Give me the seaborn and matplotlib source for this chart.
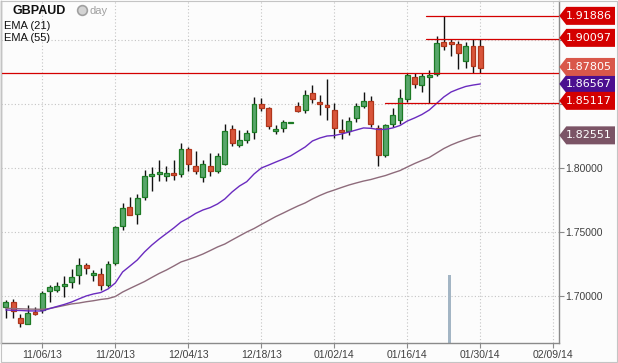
import numpy as np
import matplotlib
matplotlib.use("Agg")
import matplotlib.pyplot as plt
import seaborn as sns
from matplotlib.patches import Polygon, Rectangle
from matplotlib.lines import Line2D
from matplotlib.transforms import blended_transform_factory

# ---------------- data ----------------
symbol = "GBPAUD"
period = "day"
tick_labels = ["11/06/13", "11/20/13", "12/04/13", "12/18/13",
               "01/02/14", "01/16/14", "01/30/14", "02/09/14"]
tick_bars = [5, 15, 25, 35, 45, 55, 65, 75]   # bar number of each date label

opens = [1.6916, 1.6951, 1.6826, 1.6784, 1.6877, 1.6888, 1.7037, 1.7045, 1.7080, 1.7107,
         1.7162, 1.7242, 1.7166, 1.7170, 1.7088, 1.7260, 1.7549, 1.7695, 1.7638, 1.7776,
         1.7940, 1.7955, 1.7934, 1.7959, 1.7951, 1.8146, 1.8013, 1.7926, 1.8014, 1.7975,
         1.8029, 1.8302, 1.8177, 1.8219, 1.8279, 1.8498, 1.8466, 1.8291, 1.8310, 1.8349,
         1.8482, 1.8455, 1.8584, 1.8518, 1.8492, 1.8451, 1.8297, 1.8291, 1.8388, 1.8488,
         1.8523, 1.8310, 1.8102, 1.8341, 1.8375, 1.8541, 1.8709, 1.8646, 1.8713, 1.8734,
         1.8982, 1.8984, 1.8966, 1.8838, 1.8953, 1.8953]
highs = [1.6969, 1.6974, 1.6859, 1.6930, 1.6912, 1.7039, 1.7086, 1.7112, 1.7156, 1.7213,
         1.7299, 1.7255, 1.7205, 1.7219, 1.7273, 1.7547, 1.7729, 1.7773, 1.7793, 1.7984,
         1.8008, 1.8063, 1.8014, 1.8063, 1.8198, 1.8162, 1.8135, 1.8063, 1.8115, 1.8115,
         1.8341, 1.8334, 1.8297, 1.8297, 1.8557, 1.8549, 1.8479, 1.8336, 1.8375, 1.8359,
         1.8513, 1.8609, 1.8648, 1.8570, 1.8695, 1.8510, 1.8380, 1.8401, 1.8505, 1.8591,
         1.8563, 1.8336, 1.8344, 1.8471, 1.8617, 1.8740, 1.8740, 1.8745, 1.8766, 1.9031,
         1.91886, 1.9005, 1.8990, 1.8987, 1.90097, 1.90097]
lows = [1.6826, 1.6830, 1.6760, 1.6779, 1.6854, 1.6870, 1.6955, 1.7034, 1.6995, 1.7065,
        1.7094, 1.7172, 1.7120, 1.7047, 1.7073, 1.7242, 1.7516, 1.7631, 1.7563, 1.7750,
        1.7820, 1.7898, 1.7898, 1.7906, 1.7932, 1.7979, 1.7952, 1.7893, 1.7941, 1.7959,
        1.8023, 1.8174, 1.8166, 1.8198, 1.8227, 1.8448, 1.8305, 1.8268, 1.8281, 1.8349,
        1.8435, 1.8427, 1.8505, 1.8414, 1.8375, 1.8232, 1.8229, 1.8258, 1.8362, 1.8466,
        1.8323, 1.8018, 1.8088, 1.8323, 1.8344, 1.8518, 1.8627, 1.8596, 1.85117, 1.8719,
        1.8922, 1.8875, 1.8773, 1.8781, 1.8740, 1.8740]
closes = [1.6951, 1.6883, 1.6791, 1.6865, 1.6862, 1.7021, 1.7070, 1.7078, 1.7094, 1.7148,
          1.7240, 1.7221, 1.7180, 1.7088, 1.7248, 1.7539, 1.7685, 1.7635, 1.7763, 1.7934,
          1.7952, 1.7969, 1.7959, 1.7947, 1.8146, 1.8034, 1.7973, 1.8029, 1.7979, 1.8091,
          1.8291, 1.8193, 1.8216, 1.8271, 1.8498, 1.8471, 1.8330, 1.8302, 1.8357, 1.8359,
          1.8448, 1.8570, 1.8541, 1.8498, 1.8474, 1.8310, 1.8284, 1.8367, 1.8484, 1.8523,
          1.8341, 1.8104, 1.8334, 1.8412, 1.8545, 1.8724, 1.8654, 1.8716, 1.8724, 1.8977,
          1.8955, 1.8971, 1.8896, 1.8953, 1.8799, 1.87805]
ema21 = [1.6891, 1.6888, 1.6887, 1.6884, 1.6883, 1.6883, 1.6902, 1.6918, 1.6934, 1.6953,
         1.6977, 1.7000, 1.7016, 1.7027, 1.7055, 1.7102, 1.7188, 1.7234, 1.7281, 1.7344,
         1.7398, 1.7445, 1.7488, 1.7531, 1.7578, 1.7609, 1.7645, 1.7672, 1.7691, 1.7719,
         1.7758, 1.7813, 1.7859, 1.7893, 1.7953, 1.8000, 1.8023, 1.8047, 1.8070, 1.8094,
         1.8129, 1.8164, 1.8211, 1.8234, 1.8250, 1.8254, 1.8266, 1.8281, 1.8297, 1.8313,
         1.8310, 1.8301, 1.8302, 1.8313, 1.8332, 1.8367, 1.8391, 1.8418, 1.8453, 1.8504,
         1.8555, 1.8594, 1.8617, 1.8637, 1.8648, 1.86567]
ema55 = [1.6904, 1.6902, 1.6900, 1.6898, 1.6897, 1.6896, 1.6902, 1.6914, 1.6926, 1.6938,
         1.6945, 1.6955, 1.6963, 1.6973, 1.6980, 1.6996, 1.7031, 1.7059, 1.7086, 1.7113,
         1.7145, 1.7176, 1.7203, 1.7234, 1.7266, 1.7285, 1.7305, 1.7328, 1.7355, 1.7383,
         1.7406, 1.7438, 1.7469, 1.7500, 1.7527, 1.7559, 1.7590, 1.7621, 1.7648, 1.7676,
         1.7703, 1.7727, 1.7758, 1.7785, 1.7809, 1.7828, 1.7848, 1.7867, 1.7883, 1.7898,
         1.7910, 1.7926, 1.7941, 1.7961, 1.7980, 1.8008, 1.8035, 1.8059, 1.8082, 1.8117,
         1.8152, 1.8180, 1.8203, 1.8223, 1.8242, 1.82551]

level_values = [1.91886, 1.90097, 1.85117]      # drawn levels with tags
level_start_bars = [57.6, 57.6, 51.9]
support_level = 1.8746                           # full width line
marker_bar = 60.8
marker_top = 1.7164
y_ticks = [1.70, 1.75, 1.80, 1.85, 1.90]
y_tick_labels = ["1.70000", "1.75000", "1.80000", "", ""]   # the last two sit under price tags

# ---------------- style ----------------
sns.set_theme(style="white")
plt.rcParams['font.family'] = ['Liberation Sans', 'DejaVu Sans']

BG = '#fcfcfc'
GREEN_FILL, GREEN_EDGE = '#58a66a', '#1c7a24'
RED_FILL, RED_EDGE = '#d9553a', '#b0361c'
LEVEL_RED = '#d40000'
EMA21_C, EMA55_C = '#6a2bbf', '#8e6b7b'
SPINE = '#8a8a8a'

W, H = 618, 363
fig = plt.figure(figsize=(W / 100, H / 100), dpi=100, facecolor=BG)
ax_l, ax_r, ax_t, ax_b = 1.0, 558.5, 1.0, 343.3
ax = fig.add_axes([ax_l / W, (H - ax_b) / H, (ax_r - ax_l) / W, (ax_b - ax_t) / H])
ax.set_facecolor(BG)

n = len(closes)
x = np.arange(n)
xlim = (-0.66, 75.71)
ylim = (1.66305, 1.93047)

# grid
ax.set_axisbelow(True)
ax.grid(True, linestyle=(0, (1, 2)), color='#c4c4c4', linewidth=0.8)

# marker bar
ax.bar([marker_bar], [marker_top - ylim[0]], bottom=ylim[0], width=0.33,
       color='#a3b5c4', zorder=1.5, linewidth=0)

# wicks
ax.vlines(x, lows, highs, color='#111111', linewidth=1.0, zorder=2)
# bodies
o = np.array(opens); c = np.array(closes)
up = c >= o
bottoms = np.minimum(o, c)
heights = np.maximum(np.abs(c - o), 0.0012)
ax.bar(x, heights, bottom=bottoms, width=0.68,
       color=[GREEN_FILL if u else RED_FILL for u in up],
       edgecolor=[GREEN_EDGE if u else RED_EDGE for u in up],
       linewidth=0.9, zorder=3)

# EMA lines
sns.lineplot(x=x, y=ema55, ax=ax, color=EMA55_C, linewidth=1.0, zorder=4, legend=False)
sns.lineplot(x=x, y=ema21, ax=ax, color=EMA21_C, linewidth=1.0, zorder=4, legend=False)

# levels
ax.plot(xlim, [support_level, support_level], color=LEVEL_RED, linewidth=0.9, zorder=5)
for v, s in zip(level_values, level_start_bars):
    ax.plot([s, xlim[1]], [v, v], color=LEVEL_RED, linewidth=0.9, zorder=5)

ax.set_xlim(*xlim)
ax.set_ylim(*ylim)

ax.set_xticks(tick_bars)
ax.set_xticklabels(tick_labels)
ax.set_yticks(y_ticks)
ax.set_yticklabels(y_tick_labels)
ax.yaxis.tick_right()
ax.tick_params(axis='y', direction='out', length=3.5, width=0.8, color=SPINE,
               pad=1.5, labelsize=7.5, labelcolor='#404040', right=True, left=False)
ax.tick_params(axis='x', direction='out', length=3.5, width=0.8, color=SPINE,
               pad=1.0, labelsize=7.5, labelcolor='#404040', bottom=True)
ax.set_xlabel(''); ax.set_ylabel('')
for side in ['left', 'bottom', 'right']:
    ax.spines[side].set_visible(True)
    ax.spines[side].set_color(SPINE)
    ax.spines[side].set_linewidth(1.0)
ax.spines['top'].set_visible(False)

# price tags on the right
trans = blended_transform_factory(ax.transAxes, ax.transData)
aw = ax_r - ax_l
tx0 = (559.3 - ax_l) / aw
tip = 7.0 / aw
tx1 = (615.0 - ax_l) / aw
txt_x = (588.5 - ax_l) / aw
half_h = 9.0 / 1280


def tag(value, color, ypos=None):
    y = value if ypos is None else ypos
    poly = Polygon([(tx0, y), (tx0 + tip, y + half_h), (tx1, y + half_h),
                    (tx1, y - half_h), (tx0 + tip, y - half_h)],
                   closed=True, transform=trans, clip_on=False,
                   facecolor=color, edgecolor='none', zorder=10)
    ax.add_patch(poly)
    ax.text(txt_x, y, f"{value:.5f}", transform=trans, ha='center', va='center',
            color='white', fontsize=8, family='DejaVu Sans', zorder=11, clip_on=False)


tag(ema21[-1], '#4b0f8f')
tag(level_values[0], LEVEL_RED)
tag(level_values[1], LEVEL_RED, level_values[1] + 0.0007)
tag(closes[-1], '#d9574a', closes[-1] + 0.0009)
tag(level_values[2], LEVEL_RED, level_values[2] + 0.0013)
tag(ema55[-1], '#7b5466')

# title / legend texts
def fy(px):
    return 1 - px / H

fig.text(12.7 / W, fy(14.2), symbol, fontsize=9, fontweight='bold', color='#111111',
         va='baseline', ha='left')
fig.add_artist(Line2D([82.3 / W], [fy(9.8)], marker='o', markersize=7,
                      markerfacecolor='#d4d4d4', markeredgecolor='#a0a0a0',
                      markeredgewidth=1.2, transform=fig.transFigure))
fig.text(89.3 / W, fy(14.2), period, fontsize=8, color='#a0a0a0', va='baseline', ha='left')
fig.text(4 / W, fy(28.6), "EMA (21)", fontsize=8, color='#111111', va='baseline', ha='left')
fig.text(4 / W, fy(41.2), "EMA (55)", fontsize=8, color='#111111', va='baseline', ha='left')

# outer frame
fig.add_artist(Rectangle((0.5 / W, (H - 361.7) / H), (616.7 - 0.5) / W, (361.7 - 0.5) / H,
                         transform=fig.transFigure, fill=False, edgecolor='#c4c4c4',
                         linewidth=0.8))

fig.savefig("out.png", dpi=100, facecolor=BG)
